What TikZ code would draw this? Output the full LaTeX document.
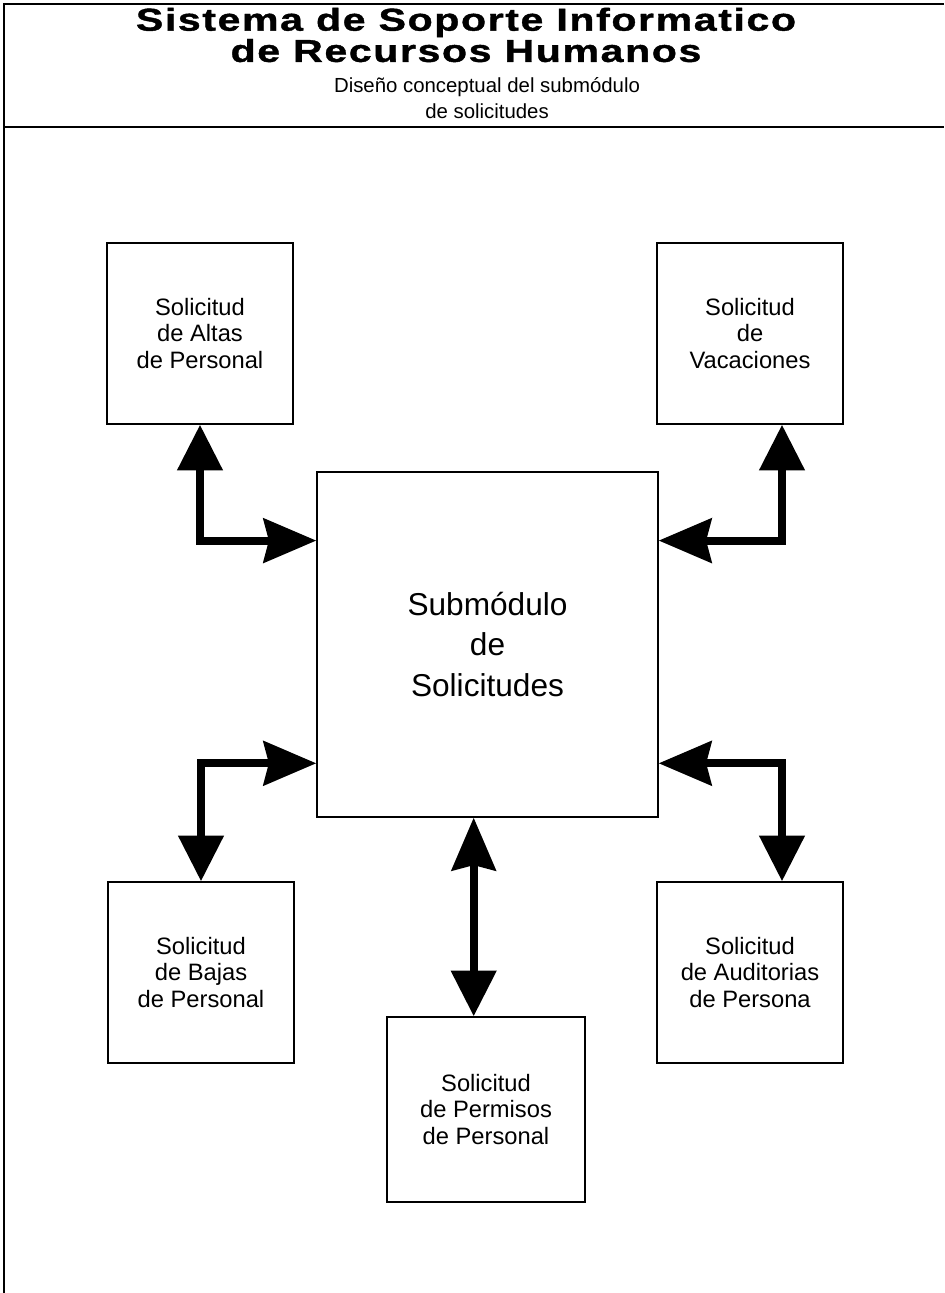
\documentclass[tikz,border=0pt]{standalone}
\usepackage{fontspec}
\setmainfont{Liberation Sans}
\newfontfamily\titlefont{Liberation Sans}[FakeStretch=1.3,LetterSpace=5,FakeBold=1.2]
\usetikzlibrary{arrows.meta, positioning, calc}

\begin{document}
\begin{tikzpicture}[x=0.02cm, y=-0.02cm,
  caja/.style={draw, line width=0.8pt, align=center, inner sep=0pt,
    minimum width=3.72cm, minimum height=3.62cm,
    font=\fontsize{13.5}{15}\selectfont},
  enlace/.style={line width=4.5pt,
    {Triangle[length=26pt,width=25pt]}-{Stealth[length=30pt,width=25pt,inset=3pt]}}]
  \useasboundingbox (0,0) rectangle (944,1293);

  % marco y cabecera
  \draw[line width=0.8pt] (4,1293) -- (4,4) -- (944,4);
  \draw[line width=0.8pt] (4,127) -- (944,127);
  \node[font={\titlefont\bfseries\fontsize{18}{16}\selectfont}, align=center, inner sep=0pt]
    (titulo) at (466,35) {Sistema de Soporte Informatico\\de Recursos Humanos};
  \node[font=\fontsize{11.6}{14.7}\selectfont, align=center, inner sep=0pt]
    (subtitulo) at (487,98) {Diseño conceptual del submódulo\\de solicitudes};

  % modulo central
  \node[caja, minimum width=6.82cm, minimum height=6.9cm,
    font=\fontsize{18}{23}\selectfont] (sub) at (487.5,644.5)
    {Submódulo\\de\\Solicitudes};

  % solicitudes
  \node[caja] (altas) at (200,333.5) {Solicitud\\de Altas\\de Personal};
  \node[caja] (vacaciones) at (750,333.5) {Solicitud\\de\\Vacaciones};
  \node[caja] (bajas) at (201,972.5) {Solicitud\\de Bajas\\de Personal};
  \node[caja] (auditorias) at (750,972.5) {Solicitud\\de Auditorias\\de Persona};
  \node[caja, minimum width=3.96cm, minimum height=3.7cm] (permisos) at (486,1109.5)
    {Solicitud\\de Permisos\\de Personal};

  % flechas
  \draw[enlace] (altas.south) |- ($(sub.north west)!0.2!(sub.south west)$);
  \draw[enlace] ($(vacaciones.south)+(32,0)$) |- ($(sub.north east)!0.2!(sub.south east)$);
  \draw[enlace] (bajas.north) |- ($(sub.north west)!0.843!(sub.south west)$);
  \draw[enlace] ($(auditorias.north)+(32,0)$) |- ($(sub.north east)!0.843!(sub.south east)$);
  \draw[enlace] ([xshift=-7pt]permisos.north) -- ([xshift=-7pt]permisos.north |- sub.south);
\end{tikzpicture}
\end{document}
